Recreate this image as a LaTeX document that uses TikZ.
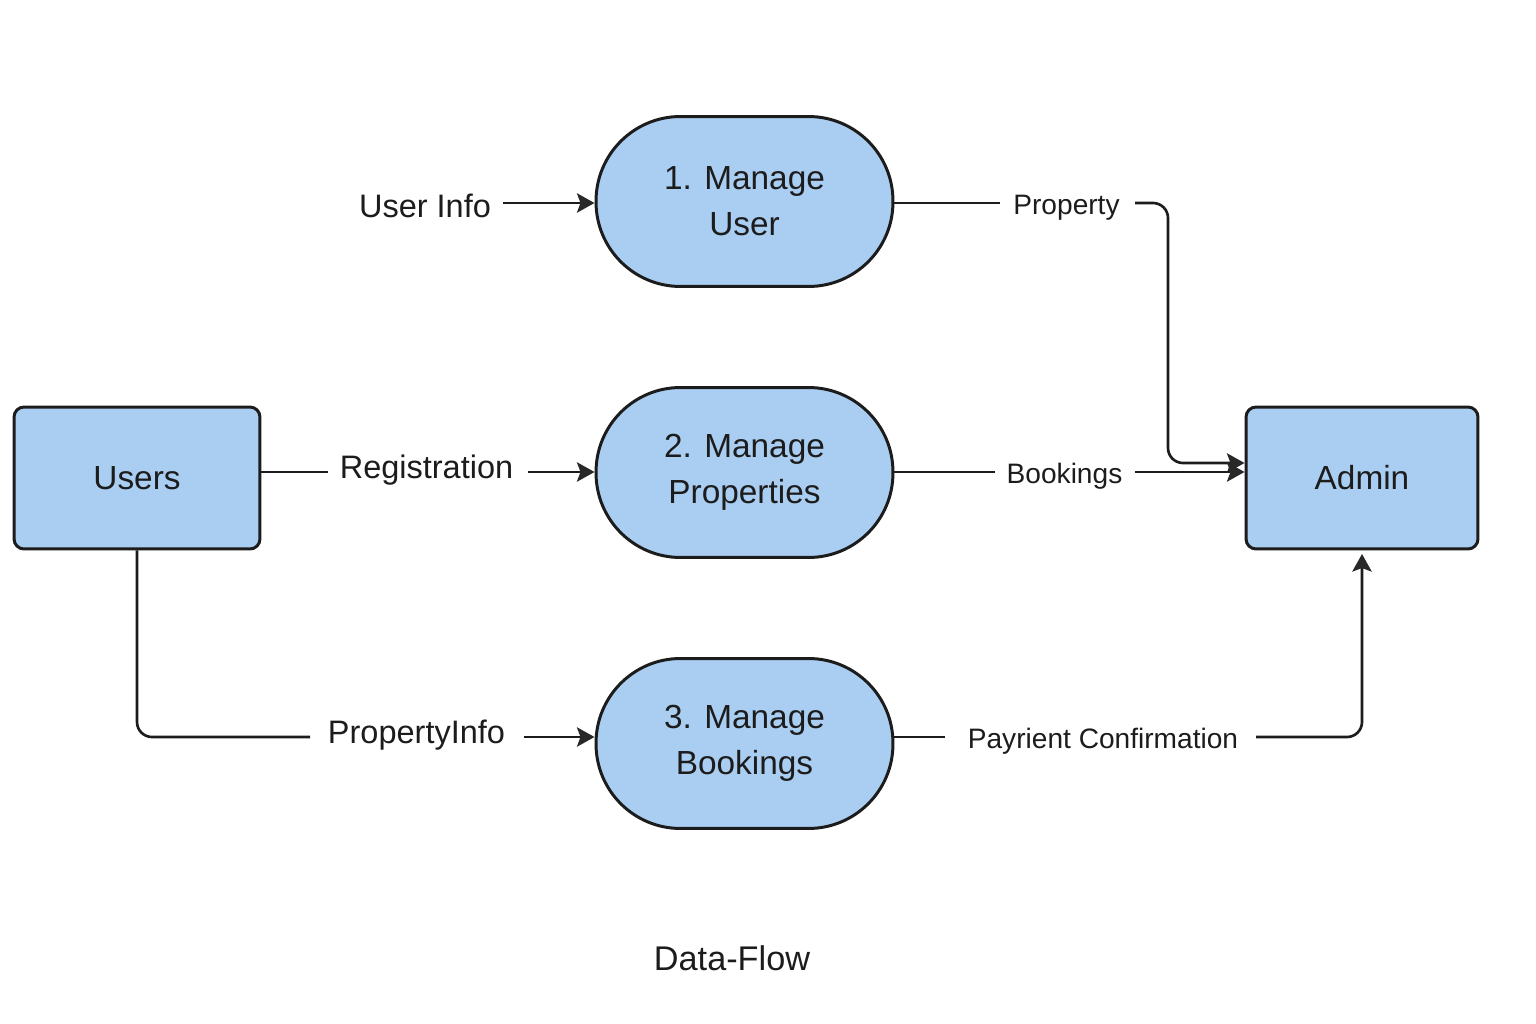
\documentclass[tikz,border=0pt]{standalone}
\usepackage{fontspec}
\setmainfont{Liberation Sans}
\usetikzlibrary{arrows.meta}
\definecolor{boxfill}{RGB}{170,206,242}
\definecolor{ink}{RGB}{28,28,28}
\definecolor{arrink}{RGB}{40,40,40}
\tikzset{
  entity/.style={draw=ink, line width=1.7pt, fill=boxfill, rounded corners=0.2cm, font=\fontsize{19}{24}\selectfont, text=ink},
  proc/.style={draw=ink, line width=1.7pt, fill=boxfill, rounded corners=1.69cm, minimum width=5.94cm, minimum height=3.4cm, align=center, font=\fontsize{19}{26}\selectfont, text=ink},
  biglabel/.style={font=\fontsize{18.5}{22}\selectfont, text=ink, inner sep=0pt},
  smalllabel/.style={font=\fontsize{16}{20}\selectfont, text=ink, inner sep=0pt},
  flow/.style={draw=ink, line width=1.5pt},
  arr/.style={flow, -{Stealth[length=10pt,width=11pt,inset=2pt,color=arrink]}}
}
\begin{document}
\begin{tikzpicture}[x=0.02cm,y=-0.02cm]
\useasboundingbox (0,0) rectangle (1536,1024);
% entities
\node[entity, minimum width=4.92cm, minimum height=2.84cm] (users) at (137,478) {Users};
\node[entity, minimum width=4.64cm, minimum height=2.84cm] (admin) at (1362,478) {Admin};
% processes
\node[proc] (p1) at (744.5,201.5) {1. Manage\\User};
\node[proc] (p2) at (744.5,472.5) {2. Manage\\Properties};
\node[proc] (p3) at (744.5,743.5) {3. Manage\\Bookings};
% labels
\node[biglabel] (ui) at (425,206) {User Info};
\node[biglabel] (reg) at (426.5,470) {Registration};
\node[biglabel] (pinfo) at (416.5,735) {PropertyInfo};
\node[smalllabel] (prop) at (1066.5,208) {Property};
\node[smalllabel] (book) at (1064.5,476) {Bookings};
\node[smalllabel] (pay) at (1103,741) {Payrient Confirmation};
\node[font=\fontsize{19.5}{24}\selectfont, text=ink] (title) at (732,958) {Data-Flow};
% coordinates
\coordinate (uiE) at (503,203);
\coordinate (regW) at (328,472);
\coordinate (regE) at (528,472);
\coordinate (pinfoW) at (310,737);
\coordinate (pinfoE) at (524,737);
\coordinate (propW) at (1000,203);
\coordinate (propE) at (1135,203);
\coordinate (pc) at (1168,463);
\coordinate (bookW) at (995,472);
\coordinate (bookE) at (1135,472);
\coordinate (payW) at (945,737);
\coordinate (payE) at (1256,737);
% connectors
\draw[arr] (uiE) -- (p1.west |- uiE);
\draw[flow] (p1.east |- propW) -- (propW);
\draw[arr, rounded corners=0.3cm] (propE) -| (pc) -- (admin.west |- pc);
\draw[flow] (users.east |- regW) -- (regW);
\draw[arr] (regE) -- (p2.west |- regE);
\draw[flow] (p2.east |- bookW) -- (bookW);
\draw[arr] (bookE) -- (admin.west |- bookE);
\draw[flow, rounded corners=0.3cm] (users.south) |- (pinfoW);
\draw[arr] (pinfoE) -- (p3.west |- pinfoE);
\draw[flow] (p3.east |- payW) -- (payW);
\draw[arr, rounded corners=0.3cm] (payE) -| ([yshift=-0.07cm]admin.south);
\end{tikzpicture}
\end{document}
